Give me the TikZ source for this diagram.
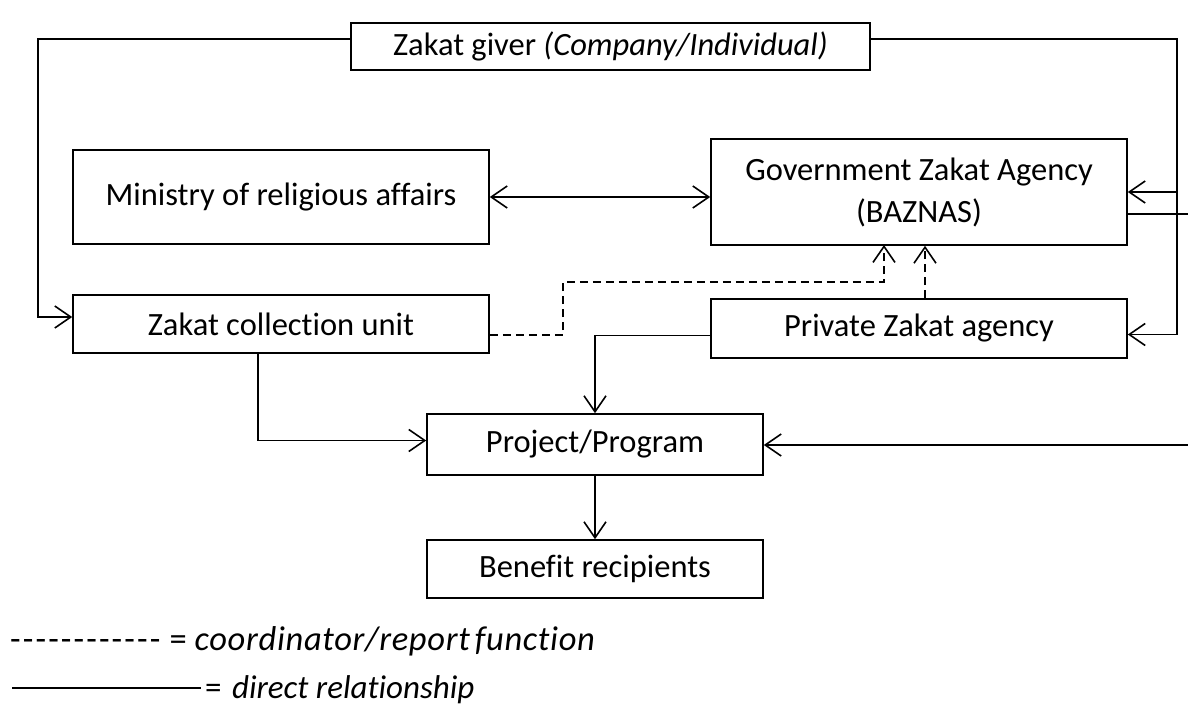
\documentclass[tikz,border=0pt]{standalone}
\usepackage{fontspec}
\setmainfont{Carlito}[Ligatures=NoCommon]
\newfontfamily\legfont{Carlito}[Ligatures=NoCommon,LetterSpace=2]
\usetikzlibrary{arrows.meta,calc}
\newcommand\legdash{\makebox[12.7pt][l]{-}}
\begin{document}
\begin{tikzpicture}[x=1pt,y=-1pt,
  box/.style={draw,line width=1.6pt,inner sep=0pt,align=center,font=\fontsize{32.5}{42}\selectfont},
  tip/.tip={Straight Barb[length=16pt,width=22pt,line width=1.6pt]},
  arr/.style={line width=1.6pt,-tip},
  dsh/.style={line width=1.6pt,dash pattern=on 8pt off 5pt,-tip},
  plain/.style={line width=1.6pt},
  txt/.style={inner sep=0pt,anchor=base west,font=\fontsize{33}{40}\selectfont}]
\useasboundingbox (0,0) rectangle (1188,706);
\fill[white] (0,0) rectangle (1188,706);
\node[box,minimum width=519pt,minimum height=47pt] (giver) at (610.5,46.5) {Zakat giver \textit{(Company/Individual)}};
\node[box,minimum width=416pt,minimum height=94pt] (ministry) at (281,197) {Ministry of religious affairs};
\node[box,minimum width=416pt,minimum height=106pt] (baznas) at (919,192) {Government Zakat Agency\\(BAZNAS)};
\node[box,minimum width=416pt,minimum height=58pt] (collect) at (281,324) {Zakat collection unit};
\node[box,minimum width=416pt,minimum height=59pt] (private) at (919,328.5) {Private Zakat agency};
\node[box,minimum width=336pt,minimum height=61pt] (project) at (595,444.5) {Project/Program};
\node[box,minimum width=336pt,minimum height=58pt] (benefit) at (595,569) {Benefit recipients};
\coordinate (lft) at (38,39);
\coordinate (rgt) at (1177,39);
\coordinate (re1) at (1192,214);
\coordinate (re2) at (1192,445);
\coordinate (dk) at (563,282);
% giver to collection unit
\draw[arr] ([yshift=7.5pt]giver.west) -- (lft) |- ([yshift=7pt]collect.west);
% giver to private and baznas
\draw[arr] ([yshift=7.5pt]giver.east) -- (rgt) |- ([yshift=-6pt]private.east);
\draw[arr] (rgt |- baznas.east) -- (baznas.east);
% baznas out right
\draw[plain] ([yshift=-22pt]baznas.east) -- (re1);
\draw[arr] (re2) -- (re2 -| project.east);
% ministry <-> baznas
\draw[line width=1.6pt,tip-tip] (ministry.east) -- (ministry.east -| baznas.west);
% dashed
\draw[dsh] ([yshift=-11pt]collect.east) -| (dk) -| (884,245);
\draw[dsh] (private.north -| 925,0) -- (baznas.south -| 925,0);
% private to project
\draw[arr] ([yshift=-7pt]private.west) -| (project.north -| 595,0);
% collect to project
\draw[arr] (collect.south -| 258,0) |- ([yshift=4pt]project.west);
% project to benefit
\draw[arr] (project.south) -- (benefit.north);
% legend
\node[txt,font=\fontsize{34.5}{40}\selectfont] (leg1) at (10,650) {\legdash\legdash\legdash\legdash\legdash\legdash\legdash\legdash\legdash\legdash\legdash\legdash\hspace{7pt}= {\legfont\itshape coordinator/report}\hspace{5pt}{\legfont\itshape function}};
\coordinate (l2a) at (12,688);
\coordinate (l2b) at (201,688);
\draw[plain] (l2a) -- (l2b);
\node[txt] (leg2) at (205,698) {= \hspace{3pt}\textit{direct relationship}};
\end{tikzpicture}
\end{document}
